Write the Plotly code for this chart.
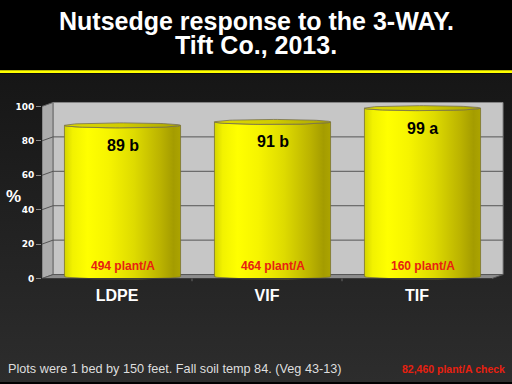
import numpy as np
import plotly.graph_objects as go

# ---------------- data ----------------
categories = ["LDPE", "VIF", "TIF"]
values = [89, 91, 99]
letters = ["b", "b", "a"]
densities = ["494 plant/A", "464 plant/A", "160 plant/A"]
y_ticks = [0, 20, 40, 60, 80, 100]
title_lines = ["Nutsedge response to the 3-WAY.", "Tift Co., 2013."]
footer_left = "Plots were 1 bed by 150 feet. Fall soil temp 84. (Veg 43-13)"
footer_right = "82,460 plant/A check"

# ---------------- layout geometry (pixels) ----------------
W, H = 512, 384
x_left_px, x_right_px = 42, 504          # plot area horizontally
y_top_px, y_bot_px = 102, 283            # plot area vertically
y0_px, k = 280, 1.73                     # value 0 position and px per unit
cat_w = 150.0                            # px per category
xr = [-0.5, -0.5 + (x_right_px - x_left_px) / cat_w]
yr = [(y0_px - y_bot_px) / k, (y0_px - y_top_px) / k]
dx = 11 / cat_w                          # depth offset in x units
dy = 4 / k                               # depth offset in y units
hw = 0.387                               # cylinder half width (x units)
ry = 2.5 / k                             # ellipse half height (y units)
n = len(categories)
xa, xb = -0.5, n - 0.5
vmax = y_ticks[-1]

fig = go.Figure()

# background gradient (full-figure helper subplot)
band = (H - 74) / H
fig.add_trace(go.Scatter(
    x=[0, 1, 1, 0, 0], y=[0, 0, band, band, 0], mode="lines",
    line=dict(width=0), fill="toself",
    fillgradient=dict(type="vertical", colorscale=[[0, "#2d2d2d"], [1, "#161616"]]),
    hoverinfo="skip", showlegend=False, xaxis="x", yaxis="y"))

# cylinders
t = np.linspace(0, np.pi, 60)
body_cs = [[0, "#d4d400"], [0.07, "#f2f200"], [0.2, "#ffff00"], [0.38, "#f6f400"],
           [0.6, "#dedb00"], [0.82, "#bcb400"], [0.94, "#a49c00"], [1, "#aca400"]]
cap_cs = [[0, "#dcd800"], [0.5, "#d0cc00"], [1, "#aaa400"]]
for i, v in enumerate(values):
    cx = i + dx / 2
    yb = dy / 2
    bx = np.concatenate([[cx - hw, cx - hw], cx - hw * np.cos(t), [cx + hw],
                         cx + hw * np.cos(t)])
    by = np.concatenate([[yb, v], v - ry * np.sin(t), [yb], yb - ry * np.sin(t)])
    fig.add_trace(go.Scatter(
        x=bx, y=by, mode="lines", line=dict(color="#7a7430", width=0.8),
        fill="toself", fillgradient=dict(type="horizontal", colorscale=body_cs),
        hoverinfo="skip", showlegend=False, xaxis="x2", yaxis="y2"))
    tt = np.linspace(0, 2 * np.pi, 90)
    fig.add_trace(go.Scatter(
        x=cx + hw * np.cos(tt), y=v + ry * np.sin(tt), mode="lines",
        line=dict(color="#777050", width=0.8),
        fill="toself", fillgradient=dict(type="horizontal", colorscale=cap_cs),
        hoverinfo="skip", showlegend=False, xaxis="x2", yaxis="y2"))

shapes = []
ref = dict(xref="x2", yref="y2", layer="below")
# back wall
shapes.append(dict(type="rect", x0=xa + dx, x1=xb + dx, y0=dy, y1=vmax + dy,
                   fillcolor="#c6c6c6", line=dict(color="#858585", width=1), **ref))
# side wall
shapes.append(dict(type="path",
                   path=f"M{xa},0 L{xa+dx},{dy} L{xa+dx},{vmax+dy} L{xa},{vmax} Z",
                   fillcolor="#acacac", line=dict(color="#666666", width=1), **ref))
# floor
shapes.append(dict(type="path",
                   path=f"M{xa},0 L{xb},0 L{xb+dx},{dy} L{xa+dx},{dy} Z",
                   fillcolor="#8c8c8c", line=dict(color="#555555", width=1), **ref))
# gridlines on back wall + side wall
for v in y_ticks[1:-1]:
    shapes.append(dict(type="line", x0=xa + dx, x1=xb + dx, y0=v + dy, y1=v + dy,
                       line=dict(color="#555555", width=1), **ref))
    shapes.append(dict(type="line", x0=xa, x1=xa + dx, y0=v, y1=v + dy,
                       line=dict(color="#555555", width=1), **ref))
# front floor edge and category boundary ticks
shapes.append(dict(type="line", x0=xa, x1=xb, y0=0, y1=0,
                   line=dict(color="#3a3a3a", width=1), xref="x2", yref="y2"))
for b in np.arange(xa + 1, xb, 1.0):
    shapes.append(dict(type="line", x0=b, x1=b, y0=0, y1=-1.7,
                       line=dict(color="#666666", width=1), xref="x2", yref="y2"))
# yellow rule under the title
shapes.append(dict(type="rect", xref="paper", yref="paper", x0=0, x1=1,
                   y0=(H - 73.5) / H, y1=(H - 70.5) / H,
                   fillcolor="#ffff00", line=dict(width=0), layer="above"))

ann = []
font = "Liberation Sans, Arial, sans-serif"
for i, (v, l) in enumerate(zip(values, letters)):
    ann.append(dict(x=i + dx / 2, y=v, xref="x2", yref="y2", text=f"{v} {l}",
                    showarrow=False, yanchor="middle", yshift=-20,
                    font=dict(family=font, size=16, weight="bold", color="#000000")))
for i, d in enumerate(densities):
    ann.append(dict(x=i + dx / 2, y=0, xref="x2", yref="y2", text=d,
                    showarrow=False, yanchor="middle", yshift=13,
                    font=dict(family=font, size=12, weight="bold", color="#e82010")))
for line, ypx in zip(title_lines, [21, 45.5]):
    ann.append(dict(x=0.5, y=1 - ypx / H, xref="paper", yref="paper", text=line,
                    showarrow=False, xanchor="center", yanchor="middle",
                    font=dict(family=font, size=25, weight="bold", color="#ffffff")))
ann.append(dict(x=6 / W, y=1 - 371 / H, xref="paper", yref="paper", text=footer_left,
                showarrow=False, xanchor="left", yanchor="middle",
                font=dict(family=font, size=12.7, color="#dedede")))
ann.append(dict(x=507 / W, y=1 - 371 / H, xref="paper", yref="paper", text=footer_right,
                showarrow=False, xanchor="right", yanchor="middle",
                font=dict(family=font, size=10.5, weight="bold", color="#e82010")))
ann.append(dict(x=13 / W, y=1 - 198 / H, xref="paper", yref="paper", text="%",
                showarrow=False, xanchor="center", yanchor="middle",
                font=dict(family=font, size=17, weight="bold", color="#ffffff")))

fig.update_layout(
    width=W, height=H, margin=dict(l=0, r=0, t=0, b=0),
    paper_bgcolor="#000000", plot_bgcolor="rgba(0,0,0,0)",
    showlegend=False, shapes=shapes, annotations=ann,
    xaxis=dict(domain=[0, 1], range=[0, 1], visible=False, fixedrange=True),
    yaxis=dict(domain=[0, 1], range=[0, 1], visible=False, fixedrange=True),
    xaxis2=dict(domain=[x_left_px / W, x_right_px / W], range=xr, anchor="y2",
                tickmode="array", tickvals=list(range(n)), ticktext=categories,
                ticks="", showgrid=False, zeroline=False, showline=False,
                ticklabelstandoff=2,
                tickfont=dict(family=font, size=16, weight="bold", color="#ffffff")),
    yaxis2=dict(domain=[(H - y_bot_px) / H, (H - y_top_px) / H], range=yr, anchor="x2",
                tickmode="array", tickvals=y_ticks, ticks="outside", ticklen=5,
                tickcolor="#8a8a8a", showgrid=False, zeroline=False, showline=False,
                tickfont=dict(family="DejaVu Sans", size=9, weight="bold", color="#ffffff")),
)

fig.write_html("out.html", config={"displayModeBar": False},
               post_script="document.body.style.margin='0';"
                           "document.body.style.background='#000';")
